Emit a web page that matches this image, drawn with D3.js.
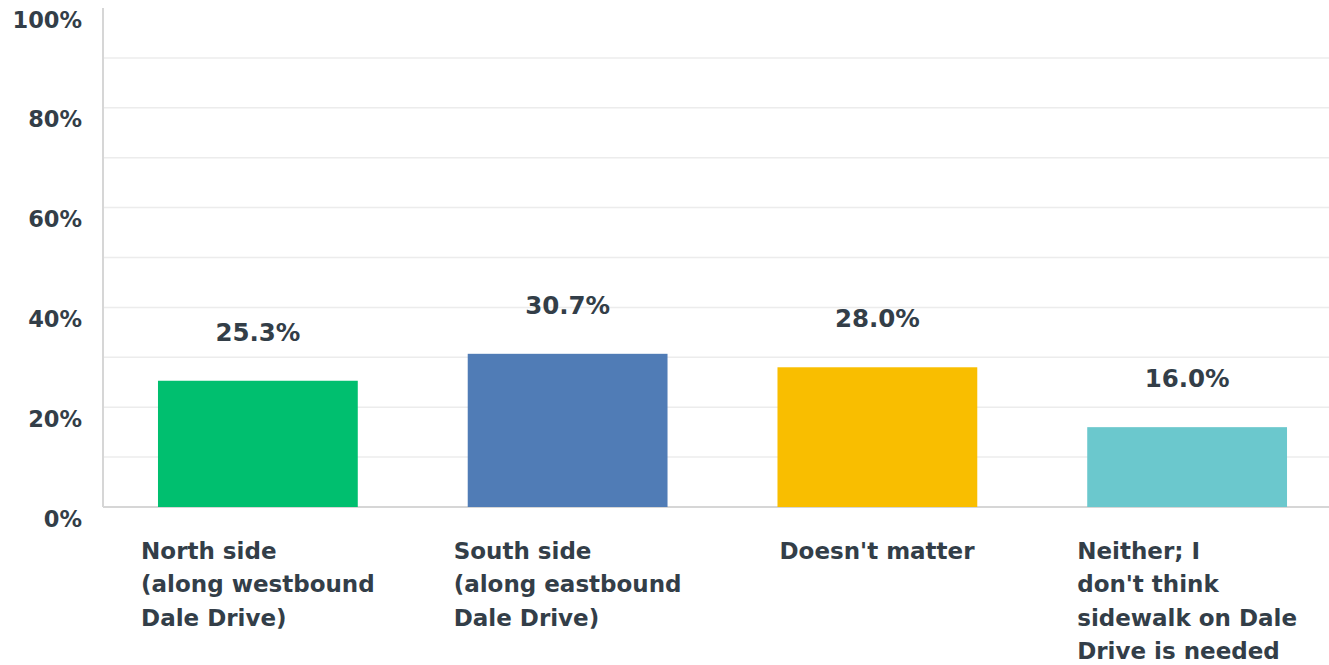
<!DOCTYPE html>
<html><head><meta charset="utf-8">
<script src="https://cdn.jsdelivr.net/npm/d3@7"></script>
<style>body{margin:0;background:#fff}svg{display:block}</style>
</head><body><div id="chart"></div>
<script>
const categories = [
  ["North side", "(along westbound", "Dale Drive)"],
  ["South side", "(along eastbound", "Dale Drive)"],
  ["Doesn't matter"],
  ["Neither; I", "don't think", "sidewalk on Dale", "Drive is needed"]
];
const values = [25.3, 30.7, 28.0, 16.0];
const colors = ["#00bf6f", "#507cb6", "#f9be00", "#6bc8cd"];
const tickValues = [0, 20, 40, 60, 80, 100];
const gridValues = [10, 20, 30, 40, 50, 60, 70, 80, 90];

const W = 1329, H = 665;
const m = {left: 103, top: 8, right: -13, bottom: 158};
const svg = d3.select("#chart").append("svg").attr("width", W).attr("height", H);
const x = d3.scaleBand().domain(d3.range(values.length)).range([m.left, W - m.right]).paddingInner(0.355).paddingOuter(0.1775);
const y = d3.scaleLinear().domain([0, 100]).range([H - m.bottom, m.top]);
const txt = "#333e48";
const font = "'DejaVu Sans', sans-serif";

svg.append("g").selectAll("line").data(gridValues).join("line")
  .attr("x1", m.left).attr("x2", W).attr("y1", d => y(d)).attr("y2", d => y(d))
  .attr("stroke", "#ececec").attr("stroke-width", 1.5);

const yAxis = d3.axisLeft(y).tickValues(tickValues).tickFormat(d => d + "%").tickSize(0).tickPadding(21);
const ga = svg.append("g").attr("transform", `translate(${m.left},0)`).call(yAxis);
ga.select(".domain").remove();
ga.selectAll("text").attr("font-family", font).attr("font-weight", 700).attr("font-size", 22.5)
  .attr("fill", txt).attr("dy", "0.85em");

svg.append("line").attr("x1", m.left).attr("x2", m.left).attr("y1", m.top).attr("y2", y(0))
  .attr("stroke", "#d6d6d6").attr("stroke-width", 2);
svg.append("line").attr("x1", m.left).attr("x2", W).attr("y1", y(0)).attr("y2", y(0))
  .attr("stroke", "#d6d6d6").attr("stroke-width", 2);

svg.append("g").selectAll("rect").data(values).join("rect")
  .attr("x", (d, i) => x(i)).attr("width", x.bandwidth())
  .attr("y", d => y(d)).attr("height", d => y(0) - y(d))
  .attr("fill", (d, i) => colors[i]);

svg.append("g").selectAll("text").data(values).join("text")
  .attr("x", (d, i) => x(i) + x.bandwidth() / 2).attr("y", d => y(d) - 40)
  .attr("text-anchor", "middle").attr("font-family", font).attr("font-weight", 700)
  .attr("font-size", 24.5).attr("fill", txt).text(d => d.toFixed(1) + "%");

const cg = svg.append("g");
categories.forEach((lines, i) => {
  const t = cg.append("text").attr("font-family", font).attr("font-weight", 700)
    .attr("font-size", 23).attr("fill", txt);
  lines.forEach((l, j) => t.append("tspan").attr("x", 0).attr("y", y(0) + 52 + j * 33.3).text(l));
  const w = t.node().getBBox().width;
  const x0 = x(i) + x.bandwidth() / 2 - w / 2;
  t.selectAll("tspan").attr("x", x0);
});
</script></body></html>
